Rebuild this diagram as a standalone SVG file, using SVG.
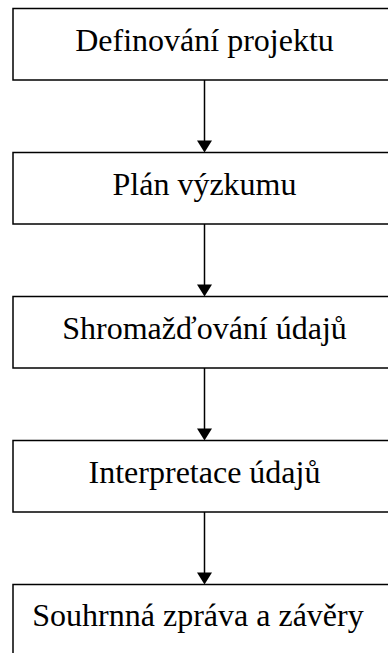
<svg xmlns="http://www.w3.org/2000/svg" width="388" height="653" viewBox="0 0 388 653">
<style>
.box{fill:#fff;stroke:#000;stroke-width:1.5}
.lbl{font-family:"Liberation Serif","Times New Roman",serif;font-size:32px;fill:#000;text-anchor:middle}
.con{stroke:#000;stroke-width:1.5;fill:none}
.head{fill:#000;stroke:none}
</style>
<rect width="388" height="653" fill="#fff"/>
<g id="connectors">
<line class="con" x1="204.5" y1="80" x2="204.5" y2="142"/>
<polygon class="head" points="197,140.5 212,140.5 204.5,152.5"/>
<line class="con" x1="204.5" y1="224" x2="204.5" y2="286"/>
<polygon class="head" points="197,284.5 212,284.5 204.5,296.5"/>
<line class="con" x1="204.5" y1="368" x2="204.5" y2="430"/>
<polygon class="head" points="197,428.5 212,428.5 204.5,440.5"/>
<line class="con" x1="204.5" y1="512" x2="204.5" y2="574"/>
<polygon class="head" points="197,572.5 212,572.5 204.5,584.5"/>
</g>
<g id="n1"><rect class="box" x="13" y="8.5" width="400" height="71.5"/><text class="lbl" x="204.5" y="50.5">Definování projektu</text></g>
<g id="n2"><rect class="box" x="13" y="152.5" width="400" height="71.5"/><text class="lbl" x="204.5" y="194.5">Plán výzkumu</text></g>
<g id="n3"><rect class="box" x="13" y="296.5" width="400" height="71.5"/><text class="lbl" x="204.5" y="338.5">Shromažďování údajů</text></g>
<g id="n4"><rect class="box" x="13" y="440.5" width="400" height="71.5"/><text class="lbl" x="204.5" y="482.5">Interpretace údajů</text></g>
<g id="n5"><rect class="box" x="13" y="584.5" width="400" height="71.5"/><text class="lbl" x="198" y="626">Souhrnná zpráva a závěry</text></g>
</svg>
